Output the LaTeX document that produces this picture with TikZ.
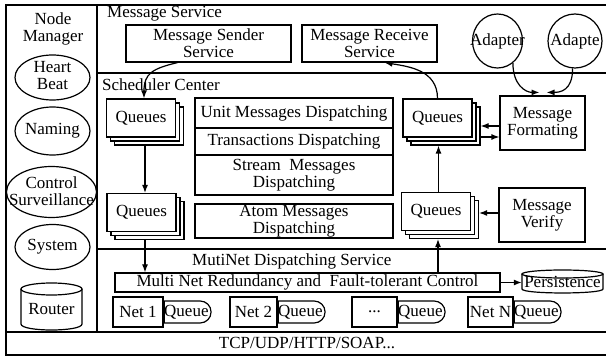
\documentclass[tikz,border=0pt]{standalone}
\usepackage{fontspec}
\setmainfont{Liberation Serif}
\usetikzlibrary{arrows.meta,shapes.geometric,shapes.misc,shadows,calc,backgrounds}
\begin{document}
\begin{tikzpicture}[x=1pt,y=-1pt,
  every node/.style={font=\fontsize{17}{17}\selectfont, inner sep=0pt, align=center},
  frame/.style={line width=1.8pt},
  box/.style={draw, line width=1.2pt, fill=white},
  stack/.style={box, minimum width=69pt, minimum height=38pt,
     double copy shadow={shadow xshift=4pt, shadow yshift=-4pt, fill=white, draw=black, line width=1.2pt}},
  ell/.style={draw, ellipse, line width=1.2pt},
  pill/.style={draw, rounded rectangle, rounded rectangle left arc=none, line width=1.2pt, minimum height=22pt, anchor=west},
  arr/.style={line width=1.2pt, -{Latex[length=8pt,width=6pt]}},
  cyl/.style={line width=1.2pt}
]
\useasboundingbox (0,0) rectangle (606,358);

% frame
\draw[frame] (606,5) -- (6,5) -- (6,355) -- (606,355);
\draw[frame] (97,5) -- (97,332);
\draw[frame] (97,73) -- (606,73);
\draw[frame] (97,249) -- (606,249);
\draw[frame] (6,332) -- (606,332);

% section labels
\node (nm) at (53,29) {Node\\Manager};
\node[anchor=west] (ms) at (107,14) {Message Service};
\node[anchor=west] (sc) at (102,85) {Scheduler Center};
\node[anchor=west] (mn) at (192,261) {MutiNet Dispatching Service};
\node (tcp) at (307,343) {TCP/UDP/HTTP/SOAP...};

% node manager
\node[ell, minimum width=75pt, minimum height=45pt] (hb) at (52.5,77.5) {};
\node (hbt) at ($(hb)+(0,-2)$) {Heart\\Beat};
\node[ell, minimum width=75pt, minimum height=48pt] (nam) at (52.5,131) {};
\node (namt) at (nam) {Naming};
\node[ell, minimum width=90pt, minimum height=51pt] (ctl) at (51.5,192) {};
\node (ctlt) at ($(ctl)+(0,-1)$) {Control\\Surveillance};
\node[ell, minimum width=75pt, minimum height=45pt] (sys) at (52.5,247) {};
\node (syst) at (sys) {System};
\node (router) at (51.5,309) {Router};
\draw[cyl] (51.5,289) ellipse [x radius=30.5pt, y radius=6pt];
\draw[cyl] (21,289) -- (21,324) .. controls (21,332) and (82,332) .. (82,324) -- (82,289);

% message service
\node[box, minimum width=165pt, minimum height=37pt] (send) at (208.5,43.5) {Message Sender\\Service};
\node[box, minimum width=135pt, minimum height=37pt] (recv) at (369.5,43.5) {Message Receive\\Service};
\node[ell, minimum width=50pt, minimum height=54pt] (ad1) at (497.5,41) {};
\node (ad1t) at (ad1) {Adapter};
\node[ell, minimum width=54pt, minimum height=54pt] (ad2) at (575,41) {};
\node (ad2t) at (ad2) {Adapte};

% scheduler center
\node[stack] (q1) at (141,118) {Queues};
\node[stack] (q2) at (437.5,118) {Queues};
\node[stack] (q3) at (141.5,212.5) {Queues};
\node[stack] (q4) at (436,211.5) {Queues};
\node[box, minimum width=198pt, minimum height=30pt] (unit) at (294,113) {Unit Messages Dispatching};
\node[box, minimum width=198pt, minimum height=27pt] (trans) at (294,141.5) {Transactions Dispatching};
\node[box, minimum width=198pt, minimum height=40pt] (stream) at (294,175) {Stream~~Messages\\Dispatching};
\node[box, minimum width=198pt, minimum height=34pt] (atom) at (294,221) {Atom Messages\\Dispatching};
\node[box, minimum width=85pt, minimum height=54pt] (fmt) at (542.5,123) {Message\\Formating};
\node[box, minimum width=86pt, minimum height=54pt] (ver) at (542,215) {Message\\Verify};

% multinet
\node[box, minimum width=385pt, minimum height=19pt] (bar) at (307.5,282.5) {Multi Net Redundancy and~~Fault-tolerant Control};
\node[minimum width=81pt] (pers) at (562.5,282) {Persistence};
\draw[cyl] (562.5,274) ellipse [x radius=40.5pt, y radius=4pt];
\draw[cyl] (522,274) -- (522,289) .. controls (522,294.3) and (603,294.3) .. (603,289) -- (603,274);

\node[box, minimum width=50pt, minimum height=30pt] (n1) at (138,312) {Net 1};
\node[pill] (p1) at (n1.east) {Queue};
\node[box, minimum width=47pt, minimum height=30pt] (n2) at (253.5,312) {Net 2};
\node[pill] (p2) at (n2.east) {Queue};
\node[box, minimum width=45pt, minimum height=30pt] (n3) at (374.5,312) {...};
\node[pill] (p3) at (n3.east) {Queue};
\node[box, minimum width=45pt, minimum height=30pt] (nn) at (490.5,312) {Net N};
\node[pill] (pn) at (nn.east) {Queue};

% connectors
\coordinate (c1) at ($(q1.south)+(4,0)$);
\coordinate (c3) at ($(q3.south)+(3.5,0)$);
\coordinate (c4) at ($(q4.south)+(2,8)$);
\coordinate (c2) at ($(q2.south)+(1,8)$);
\begin{scope}[on background layer]
  \draw[arr] (c1) -- (c1 |- q3.north);
  \draw[arr] (c3) -- (c3 |- bar.north);
\end{scope}
\draw[arr] (c4 |- bar.north) -- (c4);
\draw[arr] (c2 |- q4.north) -- (c2);

\draw[arr] ($(send.south)+(-31,0)$) .. controls +(-25,6) and +(0,-25) .. ($(q1.north)+(3,0)$);
\draw[arr] (q2.north) .. controls +(0,-28) and +(25,4) .. ($(recv.south)+(15,0)$);
\draw[arr] (ad1.-55) .. controls +(0,22) and +(-14,0) .. ($(fmt.north)+(-3,-3)$);
\draw[arr] (ad2.-95) .. controls +(0,22) and +(14,0) .. ($(fmt.north)+(4,-3)$);
\draw[arr] ($(fmt.west)+(0,3)$) -- ($(q2.east)+(8,8)$);
\draw[arr] ($(q2.east)+(8,19)$) -- ($(fmt.west)+(0,14)$);
\draw[arr] ($(ver.west)+(0,-2)$) -- ($(q4.east)+(8,1.5)$);
\draw[arr] (bar.east) -- (bar.east -| pers.west);
\end{tikzpicture}
\end{document}
